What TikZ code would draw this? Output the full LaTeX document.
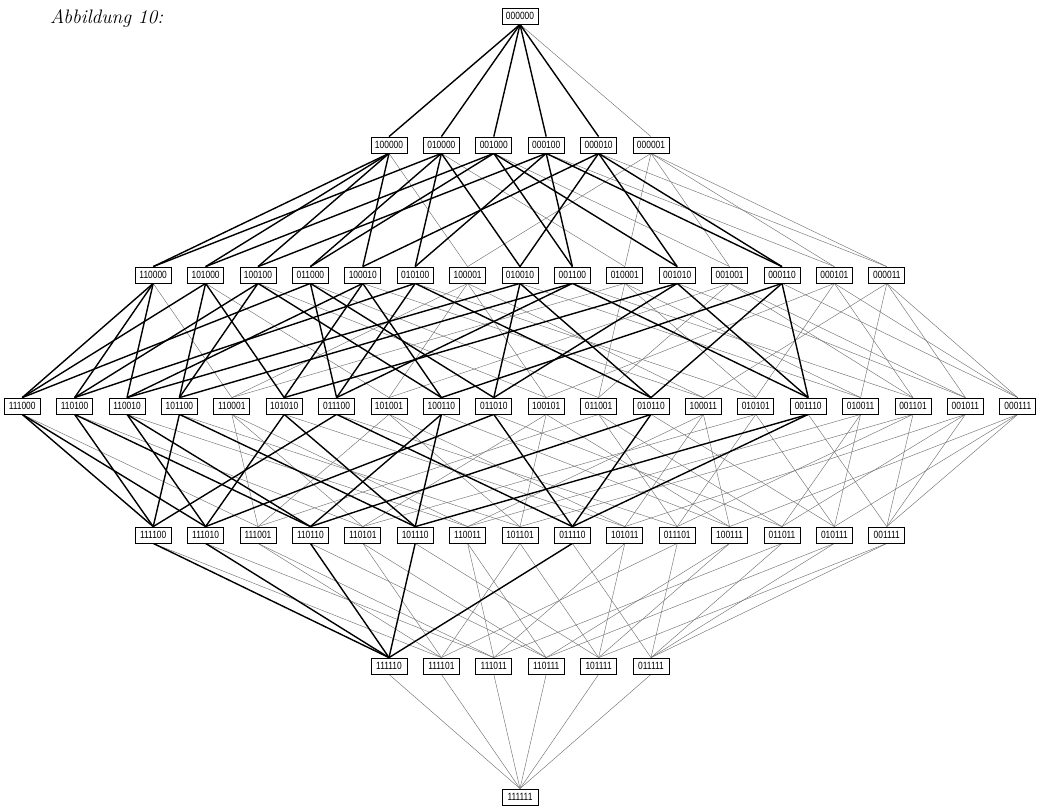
\documentclass[tikz,border=0pt]{standalone}
\usepackage{fontspec}
\usetikzlibrary{backgrounds}
\newfontfamily\boxfont{Liberation Sans}[FakeStretch=0.8]
\begin{document}
\begin{tikzpicture}[x=1pt,y=-1pt,
  bitbox/.style={draw=black,line width=0.8pt,fill=white,inner sep=0pt,minimum width=36pt,minimum height=16pt,font=\boxfont\fontsize{10.5}{11}\selectfont},
  thinedge/.style={black!55,line width=0.45pt},
  thickedge/.style={black,line width=1.4pt},
  caption/.style={font=\fontsize{19.5}{23}\selectfont\itshape,anchor=west,inner sep=0pt}]
\useasboundingbox (0,0) rectangle (1047,811);
\node[caption] (cap) at (50,19) {Abbildung 10:};
% levels
\def\placelevel#1#2#3{%
  \foreach \lab [count=\i from 0] in {#3} {%
    \pgfmathbasetodec{\dv}{\lab}{2}%
    \node[bitbox] (v\dv) at ({520+(\i-(#2-1)/2)*52.4},#1) {\lab};
  }}
\placelevel{16}{1}{000000}
\placelevel{145}{6}{100000,010000,001000,000100,000010,000001}
\placelevel{275}{15}{110000,101000,100100,011000,100010,010100,100001,010010,001100,010001,001010,001001,000110,000101,000011}
\placelevel{406}{20}{111000,110100,110010,101100,110001,101010,011100,101001,100110,011010,100101,011001,010110,100011,010101,001110,010011,001101,001011,000111}
\placelevel{535}{15}{111100,111010,111001,110110,110101,101110,110011,101101,011110,101011,011101,100111,011011,010111,001111}
\placelevel{666}{6}{111110,111101,111011,110111,101111,011111}
\placelevel{797}{1}{111111}
% edges
\begin{pgfonlayer}{background}
\foreach \a in {0,...,63} {
  \foreach \b in {32,16,8,4,2,1} {
    \pgfmathtruncatemacro{\bit}{mod(floor(\a/\b),2)}
    \pgfmathtruncatemacro{\parity}{mod(\a,2)}
    \pgfmathtruncatemacro{\w}{\a+\b}
    \ifnum\bit=0
      \ifnum\parity=1 \draw[thinedge] (v\a.south) -- (v\w.north);
      \else\ifnum\b=1 \draw[thinedge] (v\a.south) -- (v\w.north);\fi\fi
    \fi
  }
}
\foreach \a in {0,...,63} {
  \foreach \b in {32,16,8,4,2} {
    \pgfmathtruncatemacro{\bit}{mod(floor(\a/\b),2)}
    \pgfmathtruncatemacro{\parity}{mod(\a,2)}
    \pgfmathtruncatemacro{\w}{\a+\b}
    \ifnum\bit=0 \ifnum\parity=0
      \draw[thickedge] (v\a.south) -- (v\w.north);
    \fi\fi
  }
}
\end{pgfonlayer}
\end{tikzpicture}
\end{document}
